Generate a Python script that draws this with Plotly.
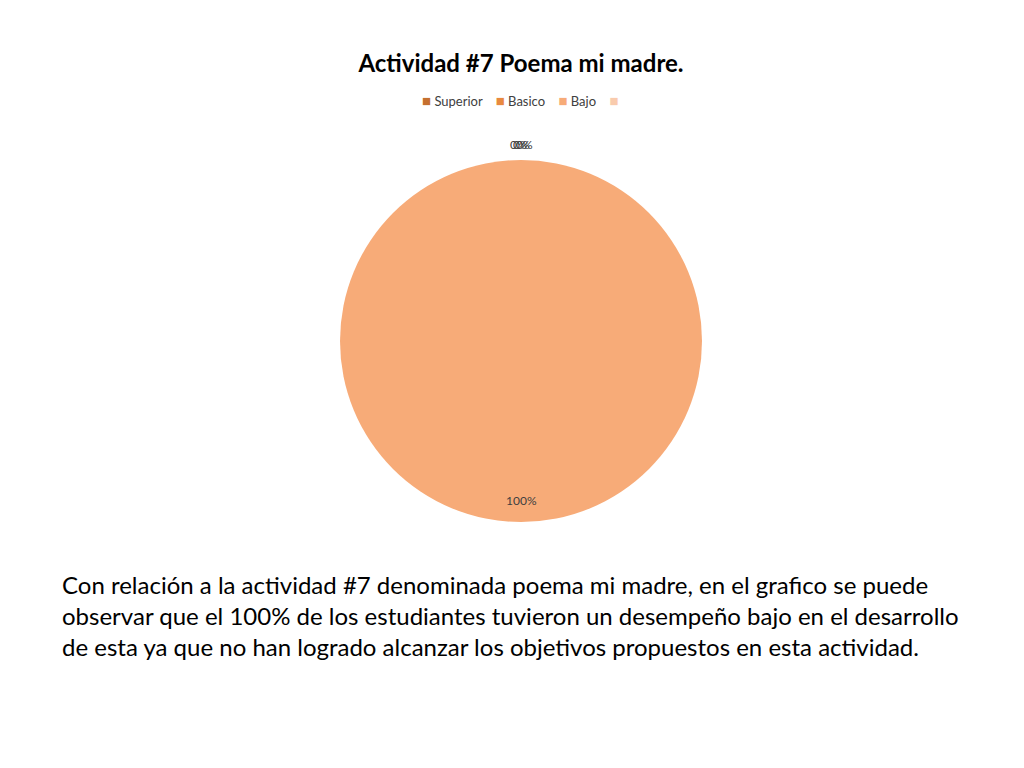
import plotly.graph_objects as go

# datos de la actividad
categorias = ["Superior", "Basico", "Bajo", ""]
estudiantes = [0, 0, 100, 0]
colores = ["#C5702F", "#E8893F", "#F7AB78", "#F9CBAD"]

titulo = "Actividad #7 Poema mi madre."
parrafo = [
    "Con relación a la actividad #7 denominada poema mi madre, en el grafico se puede",
    "observar que el 100% de los estudiantes tuvieron un desempeño bajo en el desarrollo",
    "de esta ya que no han logrado alcanzar los objetivos propuestos en esta actividad.",
]

total = sum(estudiantes)
porcentajes = [round(v * 100 / total) for v in estudiantes]

# la pagina tiene 8px de margen en el body, se descuenta
def px_x(p):
    return (p - 8) / 1024

def px_y(p):
    return 1 - (p - 8) / 768

fig = go.Figure(go.Pie(
    labels=[c if c else " " for c in categorias],
    values=estudiantes,
    marker=dict(colors=colores, line=dict(width=0)),
    sort=False,
    direction="clockwise",
    rotation=90,
    textinfo="none",
    hoverinfo="label+percent",
    showlegend=False,
    domain=dict(x=[px_x(340), px_x(702)], y=[px_y(522), px_y(160)]),
))

# etiquetas de porcentaje (los ceros se amontonan arriba, como en el original)
desfase = [-3, 0, 0, 3]
for p, d in zip(porcentajes, desfase):
    if p == 0:
        fig.add_annotation(x=px_x(521), y=px_y(144), xref="paper", yref="paper",
                           xanchor="center", yanchor="middle",
                           xshift=d, text=f"{p}%", showarrow=False,
                           font=dict(size=12, color="#404040"))
    else:
        fig.add_annotation(x=px_x(521), y=px_y(500), xref="paper", yref="paper",
                           xanchor="center", yanchor="middle",
                           text=f"{p}%", showarrow=False,
                           font=dict(size=12, color="#404040"))

# leyenda con cuadritos pequeños
items = []
for c, col in zip(categorias, colores):
    items.append(f"<span style='color:{col};font-size:15px'>■</span>&nbsp;{c}")
fig.add_annotation(x=px_x(522), y=px_y(100), xref="paper", yref="paper",
                   xanchor="center", yanchor="middle",
                   text="&nbsp;&nbsp;&nbsp;&nbsp;".join(items), showarrow=False,
                   font=dict(size=13, color="#404040"))

fig.add_annotation(x=0, y=px_y(615), xref="paper", yref="paper",
                   xanchor="left", yanchor="middle", xshift=52,
                   text="<br>".join(parrafo), align="left", showarrow=False,
                   font=dict(family="Lato, Open Sans, sans-serif", size=24, color="black"))

fig.update_layout(
    width=1024, height=768,
    margin=dict(l=0, r=0, t=0, b=0),
    paper_bgcolor="white",
    plot_bgcolor="white",
    font=dict(family="Lato, Open Sans, sans-serif"),
    title=dict(text="<b>" + titulo + "</b>", x=px_x(521), xanchor="center",
               y=px_y(64), yanchor="middle",
               font=dict(size=24, color="black")),
)

fig.write_html("out.html")
